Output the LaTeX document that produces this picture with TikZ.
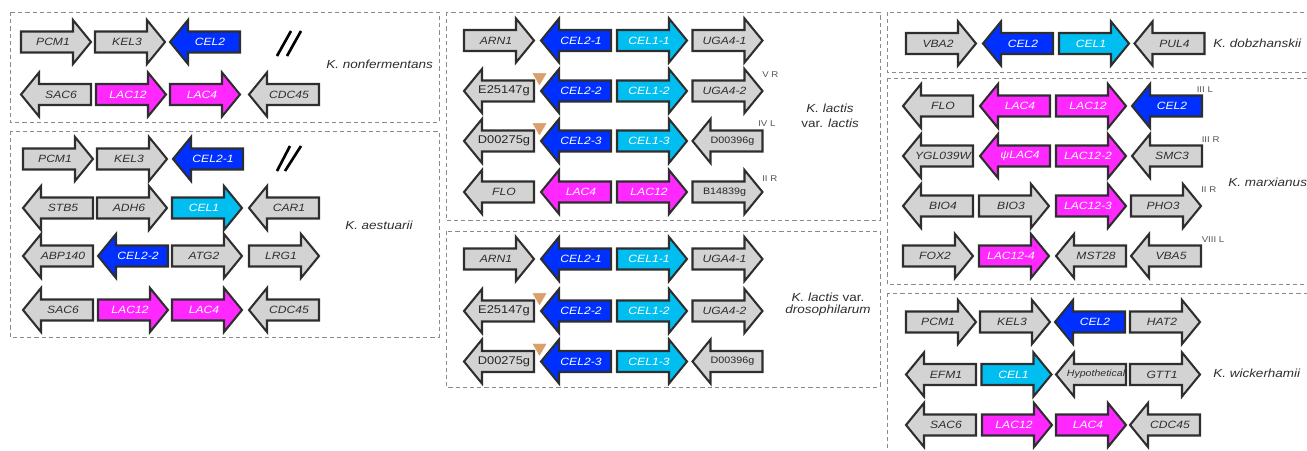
\documentclass[tikz,border=0pt]{standalone}
\usepackage{fontspec}
\setmainfont{Liberation Sans}[FakeStretch=1.15]
\definecolor{ggray}{HTML}{D3D3D3}
\definecolor{gblue}{HTML}{0030FF}
\definecolor{gcyan}{HTML}{00BFF0}
\definecolor{gmag}{HTML}{FF28FF}
\definecolor{gstroke}{HTML}{2E2E2E}
\definecolor{tcol}{HTML}{2E2E2E}
\definecolor{boxcol}{HTML}{8A8A8A}
\definecolor{tri}{HTML}{D9A06C}
\definecolor{chrcol}{HTML}{555555}
\tikzset{
  gbody/.style={draw=gstroke, line width=1.55pt, line join=miter},
  gtxt/.style={inner sep=0pt, text=tcol, font=\fontsize{7.9}{8}\selectfont\itshape},
  wtxt/.style={inner sep=0pt, text=white, font=\fontsize{7.9}{8}\selectfont\itshape},
  ltxt/.style={inner sep=0pt, text=black!85, font=\fontsize{8.4}{9}\selectfont},
  lstxt/.style={inner sep=0pt, text=black!85, font=\fontsize{7}{8}\selectfont},
  htxt/.style={inner sep=0pt, text=tcol, font=\fontsize{6.9}{8}\selectfont\itshape},
  stxt/.style={inner sep=0pt, text=tcol, font=\fontsize{8.8}{10}\selectfont, align=center},
  ctxt/.style={inner sep=0pt, anchor=west, text=chrcol, font=\fontsize{6.3}{7}\selectfont},
  panel/.style={draw=boxcol, line width=0.6pt, dash pattern=on 3.2pt off 2.2pt},
  slash/.style={draw=black, line width=2pt},
  tribox/.style={fill=tri, draw=white, line width=0.3pt}
}
\newcommand{\geneR}[6]{%
  \draw[gbody, fill=#4] (#2,#3-10.5) -- (#2+52,#3-10.5) -- (#2+52,#3-22) -- (#2+70,#3) -- (#2+52,#3+22) -- (#2+52,#3+10.5) -- (#2,#3+10.5) -- cycle;
  \node[#5] (#1) at (#2+32,#3) {#6};}
\newcommand{\geneL}[6]{%
  \draw[gbody, fill=#4] (#2+70,#3-10.5) -- (#2+18,#3-10.5) -- (#2+18,#3-22) -- (#2,#3) -- (#2+18,#3+22) -- (#2+18,#3+10.5) -- (#2+70,#3+10.5) -- cycle;
  \node[#5] (#1) at (#2+40,#3) {#6};}
\newcommand{\insmark}[3]{%
  \fill[tribox] (#2-7.5,#3-18) -- (#2+7.5,#3-18) -- (#2,#3-5) -- cycle;
  \coordinate (#1) at (#2,#3-12);}
\begin{document}
\begin{tikzpicture}[x=0.75pt, y=-0.75pt]
\useasboundingbox (0,0) rectangle (1307,450);
\clip (0,0) rectangle (1307,450);
% panels
\draw[panel] (10,12) rectangle (439,122);
\draw[panel] (10,131) rectangle (439,337);
\draw[panel] (446,12) rectangle (880,220);
\draw[panel] (446,231) rectangle (880,387);
\draw[panel] (887,12) rectangle (1320,72);
\draw[panel] (887,78) rectangle (1320,284);
\draw[panel] (887,293) rectangle (1320,470);

% ---- K. nonfermentans
\geneR{a1}{21}{42}{ggray}{gtxt}{PCM1}
\geneR{a2}{95}{42}{ggray}{gtxt}{KEL3}
\geneL{a3}{170}{42}{gblue}{wtxt}{CEL2}
\geneL{a4}{21}{94.5}{ggray}{gtxt}{SAC6}
\geneR{a5}{96}{94.5}{gmag}{wtxt}{LAC12}
\geneR{a6}{170}{94.5}{gmag}{wtxt}{LAC4}
\geneL{a7}{249}{94.5}{ggray}{gtxt}{CDC45}
\draw[slash] (277,56) -- (291,31);
\draw[slash] (287,56) -- (301,31);
\node[stxt, anchor=west] (sp1) at (326,64) {\itshape K. nonfermentans};

% ---- K. aestuarii
\geneR{b1}{23}{159}{ggray}{gtxt}{PCM1}
\geneR{b2}{97}{159}{ggray}{gtxt}{KEL3}
\geneL{b3}{173}{159}{gblue}{wtxt}{CEL2-1}
\draw[slash] (277,171) -- (290,146);
\draw[slash] (285,171) -- (301,146);
\geneL{b4}{23}{208}{ggray}{gtxt}{STB5}
\geneR{b5}{97}{208}{ggray}{gtxt}{ADH6}
\geneR{b6}{172}{208}{gcyan}{wtxt}{CEL1}
\geneL{b7}{249}{208}{ggray}{gtxt}{CAR1}
\geneL{b8}{23}{256}{ggray}{gtxt}{ABP140}
\geneL{b9}{98}{256}{gblue}{wtxt}{CEL2-2}
\geneR{b10}{172}{256}{ggray}{gtxt}{ATG2}
\geneR{b11}{249}{256}{ggray}{gtxt}{LRG1}
\geneL{b12}{23}{310}{ggray}{gtxt}{SAC6}
\geneR{b13}{98}{310}{gmag}{wtxt}{LAC12}
\geneR{b14}{172}{310}{gmag}{wtxt}{LAC4}
\geneL{b15}{249}{310}{ggray}{gtxt}{CDC45}
\node[stxt] (sp2) at (379,225) {\itshape K. aestuarii};

% ---- K. lactis var. lactis
\geneR{c1}{464}{40.5}{ggray}{gtxt}{ARN1}
\geneL{c2}{541}{40.5}{gblue}{wtxt}{CEL2-1}
\geneR{c3}{617}{40.5}{gcyan}{wtxt}{CEL1-1}
\geneR{c4}{692.5}{40.5}{ggray}{gtxt}{UGA4-1}
\geneL{c5}{464}{91}{ggray}{ltxt}{E25147g}
\geneL{c6}{541}{91}{gblue}{wtxt}{CEL2-2}
\geneR{c7}{617}{91}{gcyan}{wtxt}{CEL1-2}
\geneR{c8}{692.5}{91}{ggray}{gtxt}{UGA4-2}
\geneL{c9}{464}{141}{ggray}{ltxt}{D00275g}
\geneL{c10}{541}{141}{gblue}{wtxt}{CEL2-3}
\geneR{c11}{617}{141}{gcyan}{wtxt}{CEL1-3}
\geneL{c12}{692.5}{141}{ggray}{lstxt}{D00396g}
\geneL{c13}{464}{192}{ggray}{gtxt}{FLO}
\geneL{c14}{541}{192}{gmag}{wtxt}{LAC4}
\geneR{c15}{617}{192}{gmag}{wtxt}{LAC12}
\geneR{c16}{692.5}{192}{ggray}{lstxt}{B14839g}
\insmark{ct1}{539.5}{91}
\insmark{ct2}{539.5}{141}
\node[ctxt] (cc1) at (762,75) {V R};
\node[ctxt] (cc2) at (758,124) {IV L};
\node[ctxt] (cc3) at (762,179) {II R};
\node[stxt] (sp3) at (830,115.5) {\itshape K. lactis\\[1.5pt]var. \itshape lactis};

% ---- K. lactis var. drosophilarum
\geneR{d1}{464}{259}{ggray}{gtxt}{ARN1}
\geneL{d2}{541}{259}{gblue}{wtxt}{CEL2-1}
\geneR{d3}{617}{259}{gcyan}{wtxt}{CEL1-1}
\geneR{d4}{692.5}{259}{ggray}{gtxt}{UGA4-1}
\geneL{d5}{464}{311}{ggray}{ltxt}{E25147g}
\geneL{d6}{541}{311}{gblue}{wtxt}{CEL2-2}
\geneR{d7}{617}{311}{gcyan}{wtxt}{CEL1-2}
\geneR{d8}{692.5}{311}{ggray}{gtxt}{UGA4-2}
\geneL{d9}{464}{361.5}{ggray}{ltxt}{D00275g}
\geneL{d10}{541}{361.5}{gblue}{wtxt}{CEL2-3}
\geneR{d11}{617}{361.5}{gcyan}{wtxt}{CEL1-3}
\geneL{d12}{692.5}{361.5}{ggray}{lstxt}{D00396g}
\insmark{dt1}{539.5}{311}
\insmark{dt2}{539.5}{361.5}
\node[stxt] (sp4) at (828,304.5) {{\itshape K. lactis} var.\\[-1pt]\itshape drosophilarum};

% ---- K. dobzhanskii
\geneR{e1}{906}{43.5}{ggray}{gtxt}{VBA2}
\geneL{e2}{983}{43.5}{gblue}{wtxt}{CEL2}
\geneR{e3}{1059}{43.5}{gcyan}{wtxt}{CEL1}
\geneL{e4}{1134.5}{43.5}{ggray}{gtxt}{PUL4}
\node[stxt, anchor=west] (sp5) at (1213,43.5) {\itshape K. dobzhanskii};

% ---- K. marxianus
\geneL{f1}{903}{106}{ggray}{gtxt}{FLO}
\geneL{f2}{980}{106}{gmag}{wtxt}{LAC4}
\geneR{f3}{1056}{106}{gmag}{wtxt}{LAC12}
\geneL{f4}{1132}{106}{gblue}{wtxt}{CEL2}
\geneL{f5}{903}{156}{ggray}{gtxt}{YGL039W}
\geneL{f6}{980}{156}{gmag}{wtxt}{ψLAC4}
\geneR{f7}{1056}{156}{gmag}{wtxt}{LAC12-2}
\geneL{f8}{1132}{156}{ggray}{gtxt}{SMC3}
\geneL{f9}{903}{206}{ggray}{gtxt}{BIO4}
\geneR{f10}{979}{206}{ggray}{gtxt}{BIO3}
\geneR{f11}{1056}{206}{gmag}{wtxt}{LAC12-3}
\geneR{f12}{1131}{206}{ggray}{gtxt}{PHO3}
\geneR{f13}{903}{256}{ggray}{gtxt}{FOX2}
\geneR{f14}{979}{256}{gmag}{wtxt}{LAC12-4}
\geneL{f15}{1056}{256}{ggray}{gtxt}{MST28}
\geneL{f16}{1131}{256}{ggray}{gtxt}{VBA5}
\node[ctxt] (fc1) at (1196.5,90) {III L};
\node[ctxt] (fc2) at (1201.5,139.5) {III R};
\node[ctxt] (fc3) at (1201,189.5) {II R};
\node[ctxt] (fc4) at (1201.5,240) {VIII L};
\node[stxt, anchor=west] (sp6) at (1228,182) {\itshape K. marxianus};

% ---- K. wickerhamii
\geneR{g1}{906}{322}{ggray}{gtxt}{PCM1}
\geneR{g2}{980}{322}{ggray}{gtxt}{KEL3}
\geneL{g3}{1055}{322}{gblue}{wtxt}{CEL2}
\geneR{g4}{1130}{322}{ggray}{gtxt}{HAT2}
\geneL{g5}{906}{374.5}{ggray}{gtxt}{EFM1}
\geneR{g6}{981.5}{374.5}{gcyan}{wtxt}{CEL1}
\geneL{g7}{1056}{374.5}{ggray}{htxt}{Hypothetical}
\geneR{g8}{1130}{374.5}{ggray}{gtxt}{GTT1}
\geneL{g9}{906}{425}{ggray}{gtxt}{SAC6}
\geneR{g10}{982}{425}{gmag}{wtxt}{LAC12}
\geneR{g11}{1056}{425}{gmag}{wtxt}{LAC4}
\geneL{g12}{1130}{425}{ggray}{gtxt}{CDC45}
\node[stxt, anchor=west] (sp7) at (1213,373) {\itshape K. wickerhamii};
\end{tikzpicture}
\end{document}
